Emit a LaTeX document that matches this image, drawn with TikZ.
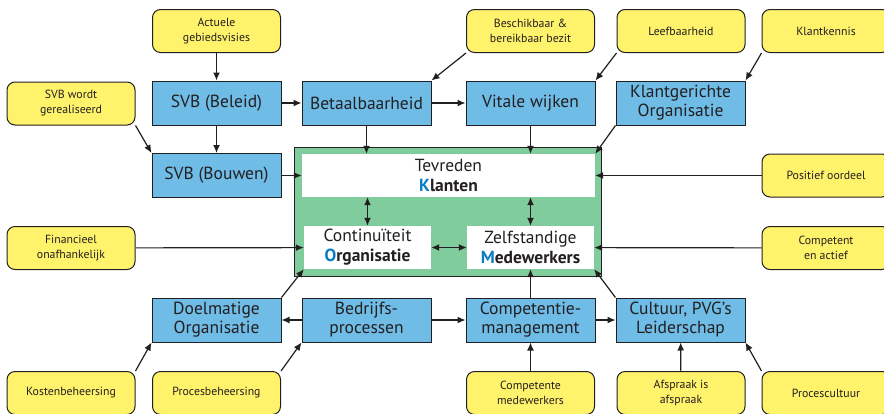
\documentclass[tikz,border=0pt]{standalone}
\usepackage{fontspec}
\setmainfont{PT Sans}
\usetikzlibrary{arrows.meta}
\definecolor{ink}{HTML}{231F20}
\definecolor{notefill}{HTML}{FFF36B}
\definecolor{boxfill}{HTML}{6FBCE7}
\definecolor{corefill}{HTML}{80CC9C}
\definecolor{keyletter}{HTML}{0A7CC4}
\tikzset{
  x=1pt, y=1pt,
  every node/.style={text=ink, align=center, inner sep=0pt},
  note/.style={draw=ink, line width=1pt, fill=notefill, rounded corners=8pt,
    minimum width=128pt, minimum height=43pt, font=\fontsize{11.8}{15}\selectfont},
  topic/.style={draw=ink, line width=1pt, fill=boxfill,
    minimum width=129pt, minimum height=44pt, font=\fontsize{17.5}{19}\selectfont},
  core/.style={fill=white, minimum height=43pt, font=\fontsize{17.5}{20}\selectfont},
  link/.style={draw=ink, line width=1.2pt, -{Latex[length=8pt,width=7pt]}},
  dlink/.style={draw=ink, line width=1.2pt, {Latex[length=8pt,width=7pt]}-{Latex[length=8pt,width=7pt]}},
}
\newcommand{\key}[2]{\textbf{\textcolor{keyletter}{#1}#2}}
\begin{document}
\begin{tikzpicture}
\useasboundingbox (0,0) rectangle (884,-413);

% central block with its three goals
\node[draw=ink, line width=1pt, fill=corefill, minimum width=307pt, minimum height=129pt] (green) at (447.5,-211.5) {};
\node[core, minimum width=293pt] (tevreden) at (448.5,-175.5) {Tevreden\\\key{K}{lanten}};
\node[core, minimum width=127pt] (contin) at (367.5,-247.5) {Continuïteit\\\key{O}{rganisatie}};
\node[core, minimum width=127pt] (zelf) at (530.5,-247.5) {Zelfstandige\\\key{M}{edewerkers}};

% blue topic boxes
\node[topic] (beleid) at (216.5,-103) {SVB (Beleid)};
\node[topic] (betaal) at (366.5,-103) {Betaalbaarheid};
\node[topic] (vitale) at (530.5,-103) {Vitale wijken};
\node[topic] (klantger) at (680.5,-103) {Klantgerichte\\Organisatie};
\node[topic] (bouwen) at (216.5,-175.5) {SVB (Bouwen)};
\node[topic] (doelm) at (216.5,-320) {Doelmatige\\Organisatie};
\node[topic] (bedrijf) at (366.5,-320) {Bedrijfs-\\processen};
\node[topic] (compman) at (530.5,-320) {Competentie-\\management};
\node[topic] (cultuur) at (680.5,-320) {Cultuur, PVG’s\\Leiderschap};

% yellow notes
\node[note] (actuele) at (216.5,-31) {Actuele\\gebiedsvisies};
\node[note] (svbw) at (71,-103.5) {SVB wordt\\gerealiseerd};
\node[note] (beschik) at (530.5,-31) {Beschikbaar \&\\bereikbaar bezit};
\node[note] (leef) at (681,-31) {Leefbaarheid};
\node[note] (kennis) at (826,-31) {Klantkennis};
\node[note] (positief) at (826,-175.5) {Positief oordeel};
\node[note] (financ) at (71,-248) {Financieel\\onafhankelijk};
\node[note] (compet) at (826,-248) {Competent\\en actief};
\node[note] (kosten) at (71,-393) {Kostenbeheersing};
\node[note] (proces) at (216.5,-393) {Procesbeheersing};
\node[note] (competente) at (530.5,-393) {Competente\\medewerkers};
\node[note] (afspraak) at (681,-393) {Afspraak is\\afspraak};
\node[note] (pcult) at (826,-393) {Procescultuur};

% connectors, top half
\draw[link] (actuele) -- (beleid);
\draw[link] (beleid) -- (bouwen);
\draw[link] (svbw.south east) -- (bouwen.north west);
\draw[link] (beleid) -- (betaal);
\draw[link] (betaal) -- (vitale);
\draw[link] (beschik.south west) -- (betaal.north east);
\draw[link] (leef.south west) -- (vitale.north east);
\draw[link] (kennis.south west) -- (klantger.north east);
\draw[link] (betaal.south) -- (betaal.south |- tevreden.north);
\draw[link] (vitale.south) -- (vitale.south |- tevreden.north);
\draw[link] (klantger.south west) -- (tevreden.north east);
\draw[link] (bouwen) -- (tevreden.west);
\draw[link] (positief) -- (tevreden.east);

% connectors inside the central block
\draw[dlink] (contin.north) -- (contin.north |- tevreden.south);
\draw[dlink] (zelf.north) -- (zelf.north |- tevreden.south);
\draw[dlink] (contin) -- (zelf);
\draw[link] (financ) -- (contin);
\draw[link] (compet) -- (zelf);

% connectors, bottom half
\draw[link] (doelm.north east) -- (contin.south west);
\draw[link] (cultuur.north west) -- (zelf.south east);
\draw[link] (compman.north) -- (compman.north |- zelf.south);
\draw[link] (bedrijf) -- (doelm);
\draw[link] (bedrijf) -- (compman);
\draw[link] (compman) -- (cultuur);
\draw[link] (kosten.north east) -- (doelm.south west);
\draw[link] (proces.north east) -- (bedrijf.south west);
\draw[link] (competente) -- (compman);
\draw[link] (afspraak) -- (cultuur);
\draw[link] (pcult.north west) -- (cultuur.south east);
\end{tikzpicture}
\end{document}
